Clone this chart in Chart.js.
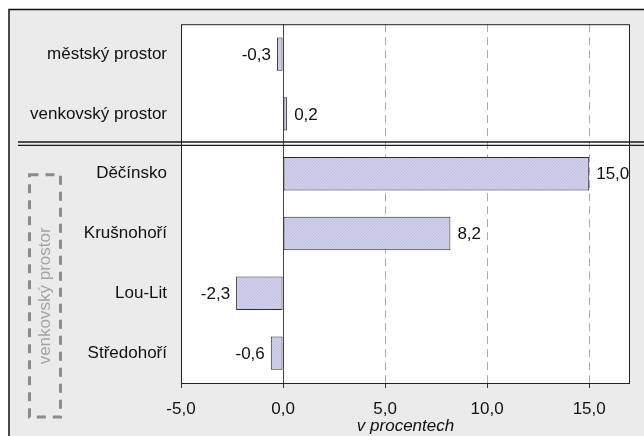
<!DOCTYPE html>
<html>
<head>
<meta charset="utf-8">
<script src="https://cdn.jsdelivr.net/npm/chart.js@4"></script>
<style>
  html, body { margin: 0; padding: 0; background: #fff; }
  #wrap { width: 644px; height: 436px; }
</style>
</head>
<body>
<div id="wrap"><canvas id="c" width="644" height="436"></canvas></div>
<script>
// ---- Daten ----
const categories = ["městský prostor", "venkovský prostor", "Děčínsko", "Krušnohoří", "Lou-Lit", "Středohoří"];
const values     = [-0.3, 0.2, 15.0, 8.2, -2.3, -0.6];
const xTicks     = [-5, 0, 5, 10, 15];
const xMin = -5, xMax = 17;
const axisTitle  = "v procentech";
const groupLabel = "venkovský prostor";

const FONT = "'Liberation Sans', Arial, sans-serif";
const fmt = (v) => v.toFixed(1).replace(".", ",");

// ---- Schraffur fuer die Balken ----
function hatch(){
  const p = document.createElement("canvas");
  p.width = 3; p.height = 3;
  const g = p.getContext("2d");
  g.fillStyle = "#d0d0ed";
  g.fillRect(0, 0, 3, 3);
  g.fillStyle = "#c0c0e2";
  for (let i = 0; i < 3; i++) g.fillRect(i, 2 - i, 1, 1);
  return g.createPattern(p, "repeat");
}

// ---- Rahmen, Doppellinie, Box ----
const decor = {
  id: "decor",
  beforeDraw(chart){
    const { ctx, chartArea: a, width, height } = chart;
    ctx.save();
    ctx.fillStyle = "#fff";
    ctx.fillRect(0, 0, width, height);
    ctx.fillStyle = "#ebebeb";
    ctx.fillRect(9, 9, width, height);
    ctx.strokeStyle = "#111";
    ctx.lineWidth = 1.5;
    ctx.beginPath();
    ctx.moveTo(9, height); ctx.lineTo(9, 9.5); ctx.lineTo(width, 9.5);
    ctx.stroke();
    ctx.fillStyle = "#fff";
    ctx.fillRect(a.left, a.top, a.right - a.left, a.bottom - a.top);
    ctx.restore();
  },
  beforeDatasetsDraw(chart){
    const { ctx, chartArea: a, scales: { x } } = chart;
    const x0 = Math.round(x.getPixelForValue(0)) + 0.5;
    ctx.save();
    ctx.strokeStyle = "#444";
    ctx.lineWidth = 1;
    ctx.beginPath();
    ctx.moveTo(x0, a.top); ctx.lineTo(x0, a.bottom);
    ctx.stroke();
    ctx.restore();
  },
  afterDatasetsDraw(chart){
    const { ctx, chartArea: a, scales: { y }, width, height } = chart;
    ctx.save();
    // Rahmen Plotflaeche
    ctx.strokeStyle = "#222";
    ctx.lineWidth = 1;
    ctx.strokeRect(a.left + 0.5, a.top + 0.5, a.right - a.left - 1, a.bottom - a.top);

    // Wertebeschriftung
    const meta = chart.getDatasetMeta(0);
    ctx.font = "17px " + FONT;
    ctx.fillStyle = "#111";
    ctx.textBaseline = "middle";
    meta.data.forEach((bar, i) => {
      const v = values[i];
      if (v >= 0) { ctx.textAlign = "left";  ctx.fillText(fmt(v), bar.x + 7, bar.y + 1); }
      else        { ctx.textAlign = "right"; ctx.fillText(fmt(v), bar.x - 6, bar.y + 1); }
    });

    // Doppellinie zwischen Gesamt und Regionen
    const yb = (y.getPixelForValue(1) + y.getPixelForValue(2)) / 2;
    ctx.strokeStyle = "#1a1a1a";
    ctx.lineWidth = 1.4;
    [yb - 1.8, yb + 1.6].forEach(yy => {
      ctx.beginPath(); ctx.moveTo(18, yy); ctx.lineTo(width, yy); ctx.stroke();
    });

    // gestrichelte Box mit gedrehtem Text
    const top = y.getPixelForValue(2) + 1, bot = height - 19;
    ctx.strokeStyle = "#8c8c8c";
    ctx.lineWidth = 3;
    ctx.setLineDash([9, 7]);
    ctx.strokeRect(29.5, top, 31, bot - top);
    ctx.setLineDash([]);
    ctx.translate(45, (top + bot) / 2);
    ctx.rotate(-Math.PI / 2);
    ctx.fillStyle = "#a4a4a4";
    ctx.textAlign = "center";
    ctx.fillText(groupLabel, 0, 0);
    ctx.restore();
  }
};

// ---- Chart ----
let chart;
function initChart(){
  const ctx = document.getElementById("c").getContext("2d");
  chart = new Chart(ctx, {
    type: "bar",
    data: {
      labels: categories,
      datasets: [{
        data: values,
        backgroundColor: hatch(),
        borderColor: "#2a2a2a",
        borderWidth: 1,
        borderSkipped: false,
        barPercentage: 0.62,
        categoryPercentage: 0.9
      }]
    },
    options: {
      indexAxis: "y",
      responsive: false,
      animation: false,
      events: [],
      layout: { padding: { left: 0, top: 24, right: 14, bottom: 0 } },
      plugins: { legend: { display: false }, tooltip: { enabled: false } },
      scales: {
        x: {
          min: xMin, max: xMax,
          afterBuildTicks: (s) => { s.ticks = xTicks.map(v => ({ value: v })); },
          afterFit: (s) => { s.height = 53; },
          grid: {
            color: (c) => (c.tick && c.tick.value === 0) ? "rgba(0,0,0,0)" : "#ababab",
            lineWidth: 1,
            tickLength: 5,
            tickColor: "#333",
            drawOnChartArea: true
          },
          border: { display: false, dash: [8, 5] },
          ticks: {
            color: "#111",
            font: { family: FONT, size: 17 },
            padding: 11,
            maxRotation: 0,
            callback: (v) => fmt(v)
          },
          title: {
            display: true,
            text: axisTitle,
            color: "#111",
            font: { family: FONT, size: 17, style: "italic" },
            padding: { top: 0, bottom: 0 }
          }
        },
        y: {
          afterFit: (s) => { s.width = 181; },
          grid: { display: false, drawTicks: false },
          border: { display: false },
          ticks: {
            color: "#111",
            font: { family: FONT, size: 17 },
            padding: 14
          }
        }
      }
    },
    plugins: [decor]
  });
}

window.addEventListener("load", () => { initChart(); });
</script>
</body>
</html>
